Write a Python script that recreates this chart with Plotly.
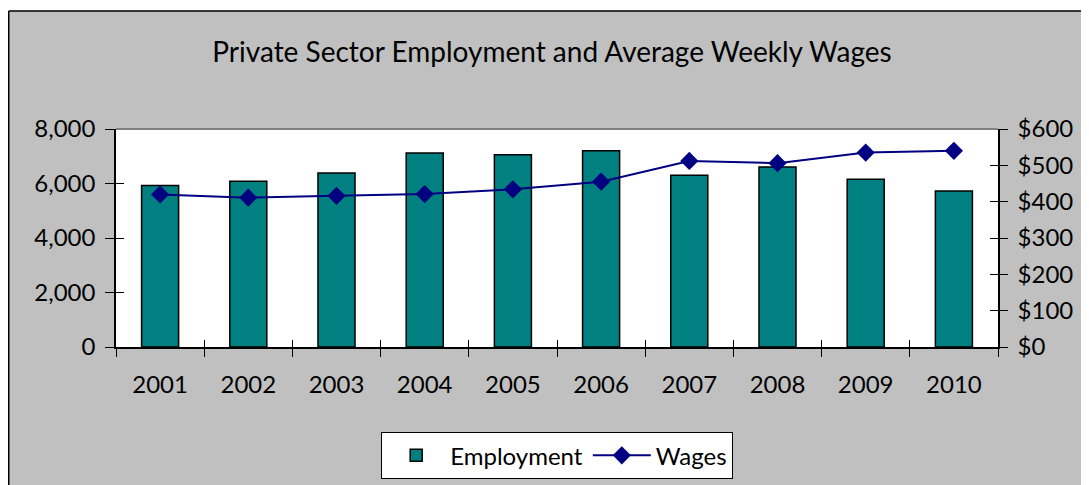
import plotly.graph_objects as go

years = ["2001", "2002", "2003", "2004", "2005", "2006", "2007", "2008", "2009", "2010"]
employment = [5930, 6080, 6385, 7120, 7057, 7204, 6300, 6606, 6154, 5725]
wages = [420, 411, 416, 421, 434, 455, 512, 506, 535, 540]

emp_ticks = [0, 2000, 4000, 6000, 8000]
wage_ticks = [0, 100, 200, 300, 400, 500, 600]
wage_labels = ["$" + str(v) for v in wage_ticks]

# page body has an 8px margin, so figure coords = image coords - 8
OFF = 8
W, H = 1089 - OFF, 485 - OFF
L, R, T, B = 116 - OFF, 998 - OFF, 129 - OFF, 347 - OFF
pw, ph = R - L, B - T

def px_x(p):
    return (p - L) / pw

def px_y(p):
    return (B - p) / ph

FONT = "Lato"
GRAY = "#C0C0C0"

fig = go.Figure()
fig.add_trace(go.Bar(
    x=years, y=employment, name="Employment",
    marker=dict(color="#008080", line=dict(color="black", width=1.5)),
    width=0.42, yaxis="y",
))
fig.add_trace(go.Scatter(
    x=years, y=wages, name="Wages", mode="lines+markers",
    line=dict(color="#000080", width=2),
    marker=dict(symbol="diamond", size=14, color="#000080"),
    yaxis="y2",
))
# helper traces to carry the inner halves of crossing tick marks
fig.add_trace(go.Scatter(x=years, y=[None] * len(years), yaxis="y3", showlegend=False, hoverinfo="skip"))
fig.add_trace(go.Scatter(x=years, y=[None] * len(years), yaxis="y4", showlegend=False, hoverinfo="skip"))
fig.add_trace(go.Scatter(x=years, y=[None] * len(years), xaxis="x2", yaxis="y", showlegend=False, hoverinfo="skip"))

tickfont = dict(family=FONT, size=24, color="black")

fig.update_layout(
    width=W, height=H,
    margin=dict(l=L, r=W - R, t=T, b=H - B, autoexpand=False),
    paper_bgcolor=GRAY, plot_bgcolor="white",
    showlegend=True,
    title=dict(text="Private Sector Employment and Average Weekly Wages",
               font=dict(family=FONT, size=28, color="black"),
               x=(552 - OFF) / W, xanchor="center", y=1 - (52 - OFF) / H, yanchor="middle"),
    xaxis=dict(type="category", categoryorder="array", categoryarray=years,
               range=[-0.5, len(years) - 0.5],
               showline=True, linecolor="black", linewidth=1.5,
               ticks="outside", ticklen=8, tickwidth=1.2, tickcolor="black",
               tickson="boundaries", tickfont=tickfont, ticklabelstandoff=15,
               showgrid=False, zeroline=False),
    xaxis2=dict(type="category", categoryorder="array", categoryarray=years,
                range=[-0.5, len(years) - 0.5], overlaying="x", anchor="y",
                ticks="inside", ticklen=7, tickwidth=1.2, tickcolor="black",
                tickson="boundaries", showticklabels=False, showline=False,
                showgrid=False, zeroline=False),
    yaxis=dict(range=[0, 8000], tickvals=emp_ticks, tickformat=",",
               showline=True, linecolor="black", linewidth=1.5,
               ticks="outside", ticklen=9, tickwidth=1.2, tickcolor="black",
               tickfont=tickfont, ticklabelstandoff=5,
               showgrid=False, zeroline=False),
    yaxis2=dict(range=[0, 600], tickvals=wage_ticks, ticktext=wage_labels,
                overlaying="y", side="right", anchor="x",
                showline=True, linecolor="black", linewidth=1.5,
                ticks="outside", ticklen=8, tickwidth=1.2, tickcolor="black",
                tickfont=tickfont, ticklabelstandoff=5,
                showgrid=False, zeroline=False),
    yaxis3=dict(range=[0, 8000], tickvals=emp_ticks, overlaying="y", side="left", anchor="x",
                ticks="inside", ticklen=8, tickwidth=1.2, tickcolor="black",
                showticklabels=False, showline=False, showgrid=False, zeroline=False),
    yaxis4=dict(range=[0, 600], tickvals=wage_ticks, overlaying="y", side="right", anchor="x",
                ticks="inside", ticklen=8, tickwidth=1.2, tickcolor="black",
                showticklabels=False, showline=False, showgrid=False, zeroline=False),
    legend=dict(orientation="h", x=0.5, xanchor="center", y=px_y(432 - OFF), yanchor="top",
                bgcolor="white", bordercolor="black", borderwidth=1.2,
                font=dict(family=FONT, size=24, color="black"),
                itemwidth=58, tracegroupgap=0),
    bargap=0.58,
)

shapes = [
    # white margin above the chart frame
    dict(type="rect", xref="paper", yref="paper", x0=px_x(-20), x1=px_x(W + 20), y0=px_y(11 - OFF), y1=px_y(-20),
         fillcolor="white", line=dict(width=0), layer="above"),
    # frame lines
    dict(type="line", xref="paper", yref="paper", x0=px_x(0.75), x1=px_x(W + 20), y0=px_y(11 - OFF), y1=px_y(11 - OFF),
         line=dict(color="black", width=1.5)),
    dict(type="line", xref="paper", yref="paper", x0=px_x(0.75), x1=px_x(0.75), y0=px_y(11 - OFF), y1=px_y(H + 20),
         line=dict(color="black", width=1.5)),
    # gray top border of plot area
    dict(type="line", xref="paper", yref="paper", x0=0, x1=1, y0=1, y1=1,
         line=dict(color="#808080", width=2)),
]
fig.update_layout(shapes=shapes)

fig.write_html("out.html")
